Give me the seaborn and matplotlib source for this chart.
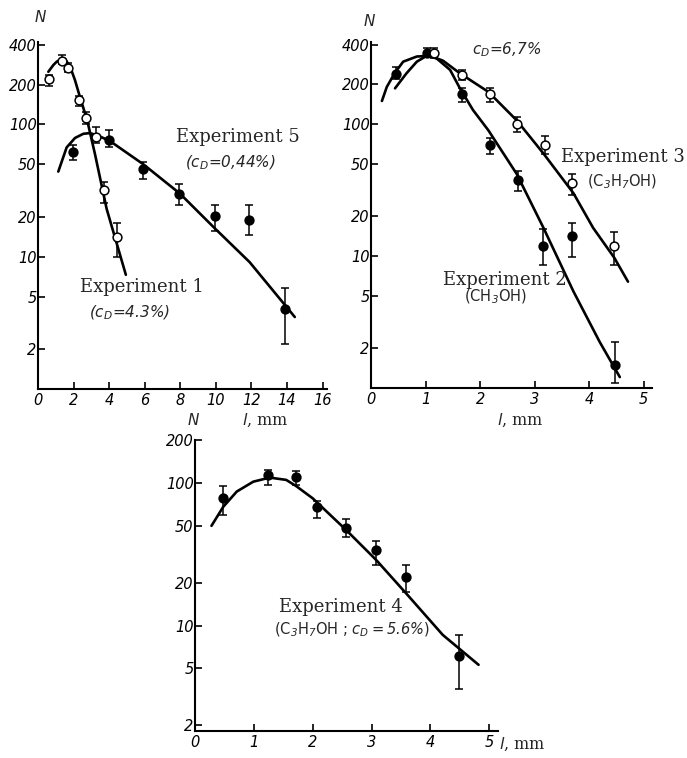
import seaborn as sns
import matplotlib
matplotlib.use('Agg')
from matplotlib import pyplot as plt
from matplotlib.ticker import NullLocator

# Experiment 1 (open circles, left panel)
exp1_l = [0.63, 1.33, 1.70, 2.29, 2.70, 3.26, 3.71, 4.46]
exp1_n = [219, 303, 268, 154, 111, 81, 32, 14]
exp1_lo = [195, 285, 250, 137, 100, 73, 25.5, 10]
exp1_hi = [235, 336, 290, 165, 124, 96, 37, 18]
exp1_curve_l = [0.58, 0.86, 1.05, 1.33, 1.52, 1.80, 2.08, 2.36, 2.77, 3.20, 3.86, 4.94]
exp1_curve_n = [250, 281, 298, 313, 311, 275, 216, 161, 107, 60, 23, 7.3]

# Experiment 5 (filled, left panel)
exp5_l = [1.95, 4.01, 5.92, 7.94, 9.94, 11.87, 13.88]
exp5_n = [62, 76, 46, 30, 20.4, 19, 4.0]
exp5_lo = [54, 67, 39, 24.5, 15.7, 14.6, 2.2]
exp5_hi = [70, 91, 52, 35.5, 24.8, 24.4, 5.8]
exp5_curve_l = [1.14, 1.61, 2.08, 2.55, 2.92, 3.40, 4.04, 5.92, 7.98, 9.94, 11.9, 14.44]
exp5_curve_n = [44, 67, 79, 85, 86, 82, 75, 50, 30, 16.4, 9.1, 3.5]

# Experiment 2 (filled, right panel)
exp2_l = [0.46, 1.03, 1.66, 2.18, 2.69, 3.16, 3.69, 4.47]
exp2_n = [240, 349, 168, 69, 38, 11.9, 14.2, 1.49]
exp2_lo = [219, 325, 148, 59, 31, 8.6, 9.8, 1.1]
exp2_hi = [273, 380, 189, 79, 44.5, 16, 17.9, 2.24]
exp2_curve_l = [0.44, 0.65, 0.84, 1.02, 1.20, 1.45, 1.63, 1.87, 2.15, 2.67, 3.16, 3.71, 4.19, 4.56]
exp2_curve_n = [187, 243, 298, 330, 316, 258, 187, 128, 90, 42, 16.4, 5.4, 2.24, 1.21]

# Experiment 3 (open, right panel)
exp3_l = [1.16, 1.66, 2.18, 2.67, 3.19, 3.69, 4.46]
exp3_n = [345, 236, 169, 100, 70, 35.6, 12]
exp3_lo = [320, 215, 148, 87, 59, 29, 8.6]
exp3_hi = [375, 258, 189, 113, 82, 42, 15.3]
exp3_curve_l = [0.20, 0.29, 0.44, 0.59, 0.84, 1.08, 1.32, 1.63, 2.15, 2.67, 3.16, 3.71, 4.07, 4.46, 4.71]
exp3_curve_n = [150, 192, 246, 298, 326, 330, 303, 243, 176, 107, 60, 30, 16.4, 9.7, 6.4]

# Experiment 4 (filled, bottom panel)
exp4_l = [0.48, 1.24, 1.72, 2.07, 2.57, 3.07, 3.58, 4.48]
exp4_n = [79, 114, 110, 68, 48.5, 33.8, 22, 6.1]
exp4_lo = [60, 97, 97, 56.5, 41.5, 26.5, 17.3, 3.6]
exp4_hi = [95, 124, 122, 75, 55.6, 38.9, 26.5, 8.6]
exp4_curve_l = [0.28, 0.48, 0.71, 0.99, 1.27, 1.55, 1.72, 2.00, 2.57, 3.08, 3.64, 4.21, 4.82]
exp4_curve_n = [50, 68, 87, 102, 109, 105, 95, 78, 46.7, 28.8, 15.9, 8.6, 5.3]

top_yticks = [2, 5, 10, 20, 50, 100, 200, 400]
bottom_yticks = [2, 5, 10, 20, 50, 100, 200]
left_xticks = [0, 2, 4, 6, 8, 10, 12, 14, 16]
short_xticks = [0, 1, 2, 3, 4, 5]

sns.set_style('ticks')
plt.rcParams['font.family'] = ['DejaVu Sans']
plt.rcParams['font.style'] = 'italic'
plt.rcParams['mathtext.fontset'] = 'dejavusans'

W, H = 687, 758
fig = plt.figure(figsize=(W / 100, H / 100), dpi=100)


def px_axes(x0, x1, ytop, ybot):
    """ Adds an axes given pixel edges of the reference """
    return fig.add_axes([x0 / W, 1 - ybot / H, (x1 - x0) / W, (ybot - ytop) / H])


def style_axes(ax, xlim, ylim, xticks, yticks):
    ax.set_yscale('log')
    ax.set_xlim(*xlim)
    ax.set_ylim(*ylim)
    ax.set_xticks(xticks)
    ax.set_xticklabels([str(t) for t in xticks])
    ax.set_yticks(yticks)
    ax.set_yticklabels([str(t) for t in yticks])
    ax.yaxis.set_minor_locator(NullLocator())
    ax.xaxis.set_minor_locator(NullLocator())
    ax.tick_params(direction='in', length=5, width=1.2, pad=3, colors='black', labelsize=10.5)
    ax.tick_params(axis='y', pad=1)
    sns.despine(ax=ax)
    for s in ['left', 'bottom']:
        ax.spines[s].set_linewidth(1.5)
        ax.spines[s].set_color('black')
    ax.set_xlabel('')
    ax.set_ylabel('')


def draw(ax, l, n, lo, hi, cl, cn, filled):
    sns.lineplot(x=cl, y=cn, ax=ax, color='black', lw=1.9, estimator=None, sort=False)
    yerr = [[v - a for v, a in zip(n, lo)], [b - v for v, b in zip(n, hi)]]
    ax.errorbar(l, n, yerr=yerr, fmt='none', ecolor='black', elinewidth=1.1, capsize=3, capthick=1.1)
    sns.scatterplot(x=l, y=n, ax=ax, s=40, color='black' if filled else 'white',
                    edgecolor='black', linewidth=1.1, zorder=5)


def txt(x, y, s, **kw):
    fig.text(x / W, 1 - y / H, s, ha=kw.pop('ha', 'center'), va='center', **kw)


serif = dict(family='DejaVu Serif', style='normal', fontsize=13)
ital = dict(fontsize=11)
chem = dict(style='normal', fontsize=10.5)

# Left panel
ax1 = px_axes(38, 327, 42, 389)
draw(ax1, exp1_l, exp1_n, exp1_lo, exp1_hi, exp1_curve_l, exp1_curve_n, False)
draw(ax1, exp5_l, exp5_n, exp5_lo, exp5_hi, exp5_curve_l, exp5_curve_n, True)
style_axes(ax1, (0, 16.25), (1, 420), left_xticks, top_yticks)

# Right panel
ax2 = px_axes(371, 652, 42, 388)
draw(ax2, exp2_l, exp2_n, exp2_lo, exp2_hi, exp2_curve_l, exp2_curve_n, True)
draw(ax2, exp3_l, exp3_n, exp3_lo, exp3_hi, exp3_curve_l, exp3_curve_n, False)
style_axes(ax2, (0, 5.15), (1, 420), short_xticks, top_yticks)

# Bottom panel
ax3 = px_axes(195, 498, 440, 731)
draw(ax3, exp4_l, exp4_n, exp4_lo, exp4_hi, exp4_curve_l, exp4_curve_n, True)
style_axes(ax3, (0, 5.15), (1.82, 200), short_xticks, bottom_yticks)

# Axis labels
txt(40, 17, 'N', fontsize=11)
txt(369, 21, 'N', fontsize=11)
txt(193, 420, 'N', fontsize=11)
txt(265, 420, '$l$, mm', family='DejaVu Serif', style='normal', fontsize=11.5)
txt(520, 420, '$l$, mm', family='DejaVu Serif', style='normal', fontsize=11.5)
txt(499, 744, '$l$, mm', family='DejaVu Serif', style='normal', fontsize=11.5, ha='left')

# Annotations
txt(238, 137, 'Experiment 5', **serif)
txt(230, 163, '(c$_D$=0,44%)', **ital)
txt(142, 287, 'Experiment 1', **serif)
txt(130, 313, '(c$_D$=4.3%)', **ital)
txt(507, 50, 'c$_D$=6,7%', **ital)
txt(623, 157, 'Experiment 3', **serif)
txt(622, 182, '(C$_3$H$_7$OH)', **chem)
txt(505, 280, 'Experiment 2', **serif)
txt(495, 297, '(CH$_3$OH)', **chem)
txt(341, 607, 'Experiment 4', **serif)
txt(352, 630, r'(C$_3$H$_7$OH ; $\mathit{c_D{=}5.6\%}$)', **chem)

fig.savefig('out.png', dpi=100)
